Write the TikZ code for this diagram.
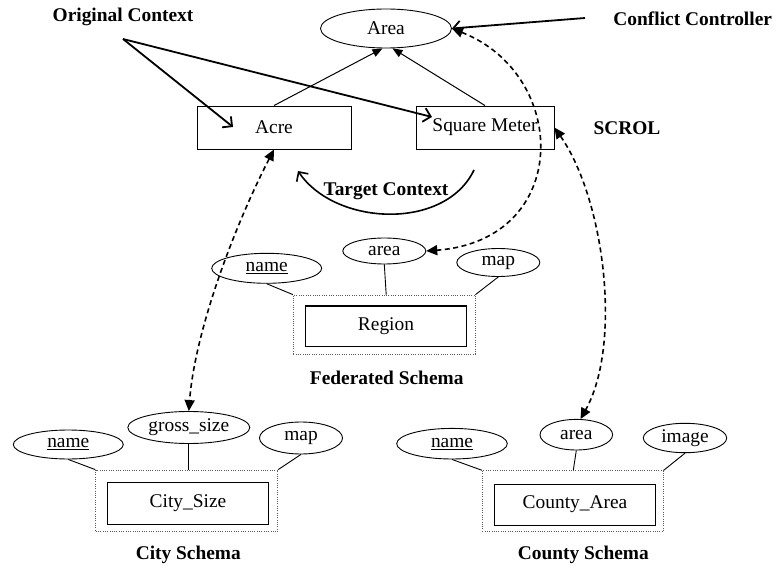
\documentclass[tikz,border=0pt]{standalone}
\usepackage{fontspec}
\setmainfont{Liberation Serif}
\usetikzlibrary{shapes.geometric,arrows.meta,calc}

\tikzset{
  every node/.style={font=\fontsize{19.4}{23}\selectfont, inner sep=0pt},
  attr/.style={ellipse, draw, line width=0.9pt},
  entity/.style={rectangle, draw, line width=0.9pt},
  grp/.style={rectangle, draw, gray!70!black, line width=0.9pt, dash pattern=on 1pt off 1.3pt},
  caption/.style={font=\fontsize{19.4}{23}\selectfont\bfseries},
  link/.style={line width=0.9pt},
  isa/.style={line width=1pt, -{Triangle[length=10pt,width=8pt]}},
  ctx/.style={line width=1.8pt, -{Straight Barb[length=7pt,width=14pt]}},
  map/.style={line width=1.6pt, dash pattern=on 5pt off 3.5pt,
    {Triangle[length=11pt,width=10pt]}-{Triangle[length=11pt,width=10pt]}},
}

\begin{document}
\begin{tikzpicture}[x=1pt,y=-1pt]
\useasboundingbox (0,0) rectangle (776,569);

% ---------- SCROL ontology ----------
\node[attr, minimum width=131pt, minimum height=39pt] (area) at (386,28.5) {Area};
\node[entity, minimum width=154pt, minimum height=43pt] (acre) at (274,127.5) {Acre};
\node[entity, minimum width=138pt, minimum height=43pt] (sqm) at (485,127.5) {Square Meter};

\draw[isa] (acre.north) -- (area.-100);
\draw[isa] (sqm.north) -- (area.-72);

\node[caption] (orig) at (123,17) {Original Context};
\node[caption] (cctl) at (692.7,19) {Conflict Controller};
\node[caption] (scrol) at (627,128) {SCROL};
\node[caption] (tctx) at (386,191.7) {Target Context};

\coordinate (ocRoot) at (123,39);
\coordinate (acreIn) at (233,127);
\coordinate (sqmIn) at (432,117);
\coordinate (ccRoot) at (585,18);
\coordinate (tcFrom) at (474,170);
\coordinate (tcTo) at (298,171);

\draw[ctx] (ocRoot) -- (acreIn);
\draw[ctx] (ocRoot) -- (sqmIn);
\draw[ctx] (ccRoot) -- (area.east);
\draw[line width=1.6pt, -{Straight Barb[length=7pt,width=14pt]}]
  (tcFrom) .. controls (445,231) and (335,226) .. (tcTo);

% ---------- Federated schema ----------
\node[grp, minimum width=181.7pt, minimum height=59.3pt] (rgrp) at (384.2,324.7) {};
\node[entity, line width=1.2pt, minimum width=161pt, minimum height=40.7pt] (region) at (386,326.3) {Region};
\node[attr, minimum width=110pt, minimum height=30pt] (rname) at (266.7,268.3) {\underline{name}};
\node[attr, minimum width=83pt, minimum height=26pt] (rarea) at (384.3,251) {area};
\node[attr, minimum width=83pt, minimum height=28pt] (rmap) at (498.3,262.5) {map};
\draw[link] (rname.south) -- (rgrp.north west);
\draw[link] (rarea.south) -- ($(rgrp.north)+(2,0)$);
\draw[link] (rmap.south) -- (rgrp.north east);
\node[caption] (fedlbl) at (386.7,378.3) {Federated Schema};

% ---------- City schema ----------
\node[grp, minimum width=182pt, minimum height=61.7pt] (cgrp) at (186.7,500.9) {};
\node[entity, minimum width=160.6pt, minimum height=41.6pt] (city) at (188,503.5) {City\_Size};
\node[attr, minimum width=110pt, minimum height=29pt] (cname) at (68.3,444.5) {\underline{name}};
\node[attr, minimum width=122pt, minimum height=32pt] (cgross) at (188.8,427.5) {gross\_size};
\node[attr, minimum width=83pt, minimum height=32pt] (cmap) at (301,438) {map};
\draw[link] (cname.south) -- (cgrp.north west);
\draw[link] (cgross.south) -- (cgross.south |- cgrp.north);
\draw[link] (cmap.south) -- (cgrp.north east);
\node[caption] (citylbl) at (188.3,555) {City Schema};

% ---------- County schema ----------
\node[grp, minimum width=181pt, minimum height=61pt] (kgrp) at (572.8,501.2) {};
\node[entity, minimum width=161.4pt, minimum height=41pt] (county) at (575,504.5) {County\_Area};
\node[attr, minimum width=110.6pt, minimum height=30.6pt] (kname) at (452,443.7) {\underline{name}};
\node[attr, minimum width=72.6pt, minimum height=30.6pt] (karea) at (576.3,434.7) {area};
\node[attr, minimum width=83.4pt, minimum height=29.4pt] (kimage) at (685,438) {image};
\draw[link] (kname.south) -- (kgrp.north west);
\draw[link] (karea.south) -- ($(kgrp.north)+(0.5,0)$);
\draw[link] (kimage.south) -- (kgrp.north east);
\node[caption] (countylbl) at (583.3,555) {County Schema};

% ---------- semantic mappings ----------
\draw[map] (acre.south) .. controls (235,225) and (195,330) .. (cgross.north);
\draw[map] (area.east) .. controls (570,75) and (572,240) .. (rarea.east);
\draw[map] (sqm.east) .. controls (605,200) and (622,345) .. (karea.75);
\end{tikzpicture}
\end{document}
